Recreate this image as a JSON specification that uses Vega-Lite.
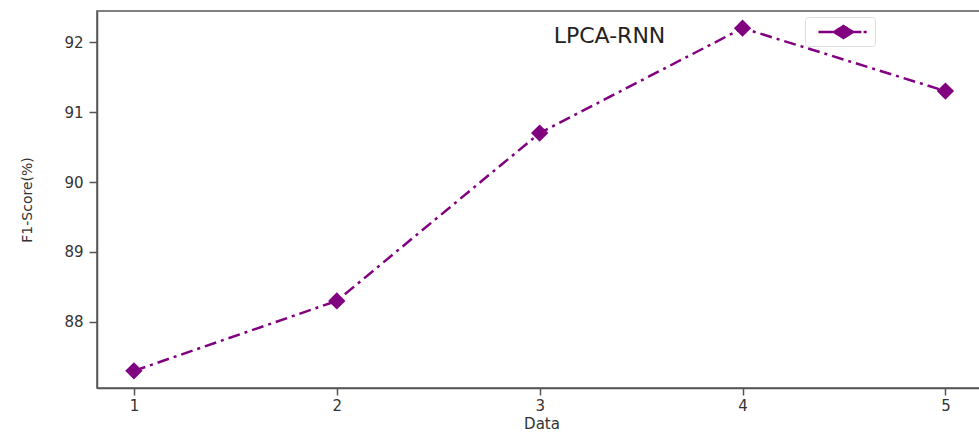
{
  "$schema": "https://vega.github.io/schema/vega-lite/v6.json",
  "autosize": "none",
  "width": 889,
  "height": 377,
  "padding": {"left": 97, "top": 11, "right": 0, "bottom": 44},
  "background": "white",
  "title": {
    "text": "LPCA-RNN",
    "anchor": "middle",
    "dx": 68,
    "offset": -37,
    "font": "DejaVu Sans",
    "fontSize": 22,
    "fontWeight": "normal",
    "color": "#222222"
  },
  "data": {
    "values": [
      {"Data": 1, "F1": 87.3, "series": "LPCA-RNN"},
      {"Data": 2, "F1": 88.3, "series": "LPCA-RNN"},
      {"Data": 3, "F1": 90.7, "series": "LPCA-RNN"},
      {"Data": 4, "F1": 92.2, "series": "LPCA-RNN"},
      {"Data": 5, "F1": 91.3, "series": "LPCA-RNN"}
    ]
  },
  "mark": {
    "type": "line",
    "strokeWidth": 2.5,
    "strokeDash": [12, 5, 3, 5],
    "point": {"shape": "diamond", "filled": true, "size": 300, "strokeDash": [1, 0]}
  },
  "encoding": {
    "x": {
      "field": "Data",
      "type": "quantitative",
      "scale": {"domain": [0.818, 5.2], "nice": false, "zero": false},
      "axis": {"values": [1, 2, 3, 4, 5], "format": "d", "title": "Data", "titleFontSize": 15, "grid": false, "tickSize": 7, "labelPadding": 3, "titlePadding": 3}
    },
    "y": {
      "field": "F1",
      "type": "quantitative",
      "scale": {"domain": [87.055, 92.445], "nice": false, "zero": false},
      "axis": {"values": [88, 89, 90, 91, 92], "format": "d", "title": "F1-Score(%)", "grid": false, "tickSize": 8, "labelPadding": 6, "titlePadding": 29}
    },
    "color": {
      "field": "series",
      "type": "nominal",
      "scale": {"range": ["#800080"]},
      "legend": {
        "orient": "none",
        "legendX": 708,
        "legendY": 6,
        "title": null,
        "labelExpr": "'      '",
        "labelFontSize": 14,
        "labelOffset": 0,
        "symbolType": "M-0.15,0H1.4M3.1,0H3.95M4.15,0H4.45M2.24,-0.57L3.14,0L2.24,0.57L1.34,0Z",
        "symbolSize": 441,
        "symbolFillColor": "#800080",
        "symbolStrokeColor": "#800080",
        "symbolStrokeWidth": 2.5,
        "padding": 3,
        "strokeColor": "#dddddd",
        "fillColor": "white",
        "cornerRadius": 3,
        "labelLimit": 0,
        "encode": {
          "symbols": {"update": {"size": {"value": 441}, "strokeDash": {"value": [1, 0]}}}
        }
      }
    }
  },
  "config": {
    "font": "DejaVu Sans",
    "view": {"stroke": "#555555", "strokeWidth": 1.5},
    "axis": {
      "labelFont": "DejaVu Sans",
      "labelFontSize": 15,
      "labelColor": "#333333",
      "titleFont": "DejaVu Sans",
      "titleFontSize": 14,
      "titleFontWeight": "normal",
      "titleColor": "#333333",
      "domainColor": "#555555",
      "domainWidth": 1.5,
      "tickColor": "#555555",
      "tickWidth": 1.5
    }
  }
}
